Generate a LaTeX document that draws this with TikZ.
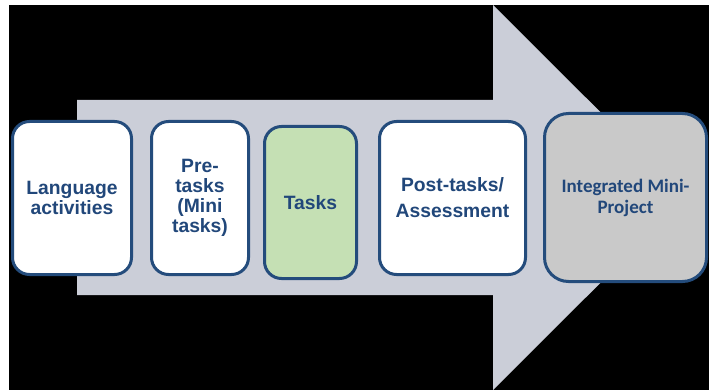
\documentclass[tikz,border=0pt]{standalone}
\usepackage{fontspec}
\setmainfont{Liberation Sans}
\newfontfamily\calfont{Carlito}
\definecolor{bgblack}{RGB}{0,0,0}
\definecolor{arrowgray}{RGB}{203,206,216}
\definecolor{boxblue}{RGB}{36,76,124}
\definecolor{txtblue}{RGB}{33,71,122}
\definecolor{taskgreen}{RGB}{197,224,180}
\definecolor{projgray}{RGB}{201,201,201}
\begin{document}
\begin{tikzpicture}[x=1pt,y=-1pt,
  stagebox/.style={draw=boxblue, line width=3pt, rounded corners=17pt, fill=white,
    align=center, text=txtblue, inner sep=0pt,
    font=\fontsize{19.3}{19.8}\selectfont\bfseries},
  ]
\useasboundingbox (0,0) rectangle (709,390);
\fill[white] (0,0) rectangle (709,390);
\fill[bgblack] (9,5) rectangle (709,390);
\fill[arrowgray] (77,100) -- (493,100) -- (493,5) -- (686,197.5) -- (493,390) -- (493,295) -- (77,295) -- cycle;
\node[stagebox, minimum width=119pt, minimum height=153pt] (lang) at (72,198) {Language\\activities};
\node[stagebox, minimum width=97pt, minimum height=153pt] (pre) at (200,198) {Pre-\\tasks\\(Mini\\tasks)};
\node[stagebox, fill=taskgreen, minimum width=92pt, minimum height=152pt] (tasks) at (310.5,202.5) {Tasks};
\node[stagebox, minimum width=146pt, minimum height=153pt, font=\fontsize{19.3}{26}\selectfont\bfseries] (post) at (452.5,198) {Post-tasks/\\Assessment};
\node[stagebox, fill=projgray, rounded corners=24pt, minimum width=162pt, minimum height=168pt, font=\calfont\fontsize{19}{21}\selectfont\bfseries] (proj) at (625.5,197.5) {Integrated Mini-\\Project};
\end{tikzpicture}
\end{document}
